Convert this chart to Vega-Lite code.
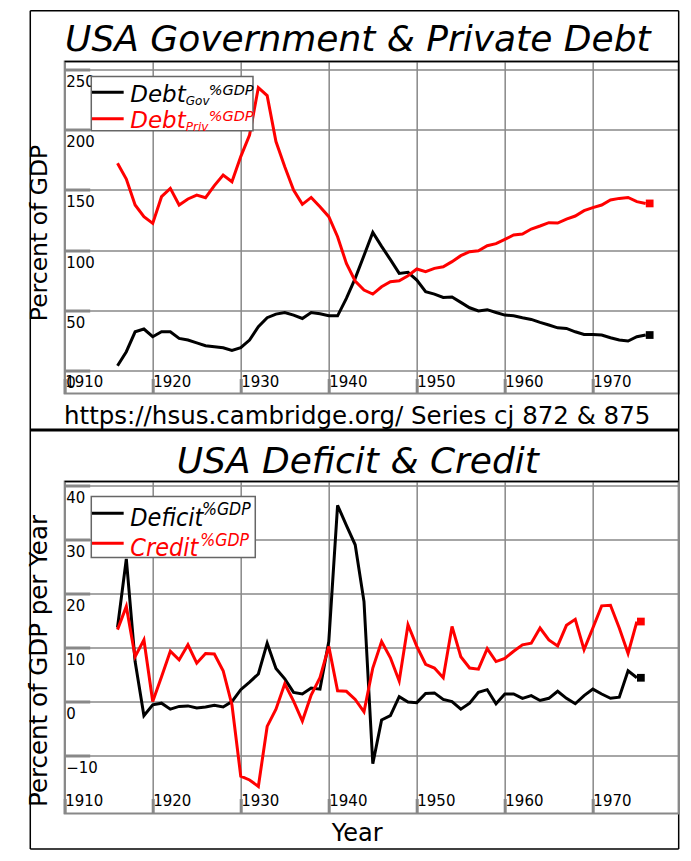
{
  "$schema": "https://vega.github.io/schema/vega-lite/v6.json",
  "background": "white",
  "padding": {"left": 25.7, "top": 8.5, "right": 14, "bottom": 10},
  "bounds": "flush",
  "spacing": 88,
  "config": {
    "font": "DejaVu Sans",
    "view": {"stroke": "#888888", "strokeWidth": 2},
    "axis": {
      "grid": true, "gridColor": "#888888", "gridWidth": 1.5, "gridOpacity": 1,
      "domain": false, "labelFontSize": 15, "labelColor": "black",
      "labelFlush": false, "labelOverlap": false, "labelBound": false,
      "ticks": true, "tickColor": "#888888", "tickWidth": 3,
      "titleFontWeight": "normal", "titleColor": "black"
    }
  },
  "vconcat": [
    {
      "width": 614, "height": 332,
      "data": {"values": [
        {"year":1916,"gov":3.6,"priv":172.2},{"year":1917,"gov":15.3,"priv":159.1},{"year":1918,"gov":31.9,"priv":137.5},
        {"year":1919,"gov":34.2,"priv":127.8},{"year":1920,"gov":27.8,"priv":122.2},{"year":1921,"gov":31.9,"priv":144.4},
        {"year":1922,"gov":31.9,"priv":151.3},{"year":1923,"gov":26.4,"priv":137.5},{"year":1924,"gov":25.0,"priv":142.5},
        {"year":1925,"gov":22.7,"priv":145.8},{"year":1926,"gov":20.3,"priv":143.6},{"year":1927,"gov":19.4,"priv":153.6},
        {"year":1928,"gov":18.6,"priv":162.5},{"year":1929,"gov":16.4,"priv":156.9},{"year":1930,"gov":18.6,"priv":177.8},
        {"year":1931,"gov":25.0,"priv":195.8},{"year":1932,"gov":36.1,"priv":235.3},{"year":1933,"gov":43.6,"priv":228.6},
        {"year":1934,"gov":46.6,"priv":190.3},{"year":1935,"gov":48.0,"priv":169.4},{"year":1936,"gov":45.8,"priv":150.0},
        {"year":1937,"gov":43.0,"priv":138.0},{"year":1938,"gov":48.0,"priv":143.8},{"year":1939,"gov":46.9,"priv":136.1},
        {"year":1940,"gov":45.2,"priv":127.8},{"year":1941,"gov":45.2,"priv":111.1},{"year":1942,"gov":59.7,"priv":88.8},
        {"year":1943,"gov":76.4,"priv":74.2},{"year":1944,"gov":95.5,"priv":66.7},{"year":1945,"gov":114.7,"priv":63.3},
        {"year":1946,"gov":103.0,"priv":69.4},{"year":1947,"gov":92.0,"priv":73.6},{"year":1948,"gov":80.5,"priv":74.4},
        {"year":1949,"gov":81.4,"priv":78.6},{"year":1950,"gov":75.0,"priv":84.2},{"year":1951,"gov":65.3,"priv":81.9},
        {"year":1952,"gov":63.3,"priv":84.7},{"year":1953,"gov":60.5,"priv":86.1},{"year":1954,"gov":60.8,"priv":90.3},
        {"year":1955,"gov":56.4,"priv":95.3},{"year":1956,"gov":51.9,"priv":98.6},{"year":1957,"gov":49.2,"priv":99.4},
        {"year":1958,"gov":50.3,"priv":103.6},{"year":1959,"gov":48.0,"priv":105.3},{"year":1960,"gov":45.8,"priv":108.8},
        {"year":1961,"gov":45.2,"priv":112.5},{"year":1962,"gov":43.6,"priv":113.3},{"year":1963,"gov":42.2,"priv":117.5},
        {"year":1964,"gov":39.7,"priv":120.0},{"year":1965,"gov":37.5,"priv":122.8},{"year":1966,"gov":35.2,"priv":122.5},
        {"year":1967,"gov":34.7,"priv":125.8},{"year":1968,"gov":31.9,"priv":128.3},{"year":1969,"gov":29.7,"priv":132.8},
        {"year":1970,"gov":29.7,"priv":135.3},{"year":1971,"gov":29.2,"priv":137.5},{"year":1972,"gov":26.9,"priv":141.7},
        {"year":1973,"gov":25.0,"priv":143.0},{"year":1974,"gov":24.2,"priv":143.8},{"year":1975,"gov":27.8,"priv":140.3},
        {"year":1976,"gov":29.2,"priv":138.8}
      ]},
      "layer": [
        {
          "transform": [{"fold": ["gov", "priv"], "as": ["series", "value"]}],
          "mark": {"type": "line", "strokeWidth": 3},
          "encoding": {
            "x": {"field": "year", "type": "quantitative",
              "scale": {"domain": [1910, 1979.75], "nice": false, "zero": false},
              "axis": {"values": [1910,1920,1930,1940,1950,1960,1970], "format": "d",
                "tickSize": -15, "labelAlign": "left", "labelBaseline": "alphabetic", "labelPadding": 7.5, "labelOffset": 0,
                "title": "https://hsus.cambridge.org/ Series cj 872 & 875", "titleFontSize": 24.5,
                "titleX": 292, "titleY": 30, "titleBaseline": "alphabetic", "titleAlign": "center"}},
            "y": {"field": "value", "type": "quantitative",
              "scale": {"domain": [-19.5, 257], "nice": false, "zero": false},
              "axis": {"values": [0,50,100,150,200,250], "tickSize": -25,
                "labelAlign": "left", "labelBaseline": "alphabetic", "labelPadding": 24, "labelOffset": 17,
                "title": "Percent of GDP", "titleFontSize": 23.5, "titleX": -18, "titleY": 171,
                "titleAngle": -90, "titleBaseline": "alphabetic", "titleAlign": "center"}},
            "color": {"field": "series", "type": "nominal", "scale": {"domain": ["gov", "priv"], "range": ["black", "red"]}, "legend": null}
          }
        },
        {
          "transform": [{"filter": {"field": "year", "equal": 1976}}, {"fold": ["gov", "priv"], "as": ["series", "value"]}],
          "mark": {"type": "square", "size": 60, "filled": true, "opacity": 1, "xOffset": 4},
          "encoding": {
            "x": {"field": "year", "type": "quantitative"},
            "y": {"field": "value", "type": "quantitative"},
            "color": {"field": "series", "type": "nominal", "scale": {"domain": ["gov", "priv"], "range": ["black", "red"]}, "legend": null}
          }
        },
        {
          "data": {"values": [{}]},
          "mark": {"type": "text", "text": "USA Government & Private Debt", "align": "center", "baseline": "alphabetic", "fontSize": 36, "fontStyle": "italic", "fill": "black"},
          "encoding": {"x": {"datum": 1943.3}, "y": {"datum": 265.34}}
        },
        {
          "data": {"values": [{}]},
          "mark": {"type": "rule", "color": "black", "strokeWidth": 1.5},
          "encoding": {"x": {"datum": 1906.09}, "y": {"datum": 299.26}, "y2": {"datum": -398.8}}
        },
        {
          "data": {"values": [{}]},
          "mark": {"type": "rule", "color": "black", "strokeWidth": 1.5},
          "encoding": {"x": {"datum": 1979.75}, "y": {"datum": 299.26}, "y2": {"datum": -398.8}}
        },
        {
          "data": {"values": [{}]},
          "mark": {"type": "rule", "color": "black", "strokeWidth": 1.5},
          "encoding": {"x": {"datum": 1906.09}, "x2": {"datum": 1979.75}, "y": {"datum": 299.26}}
        },
        {
          "data": {"values": [{}]},
          "mark": {"type": "rule", "color": "black", "strokeWidth": 3},
          "encoding": {"x": {"datum": 1906.09}, "x2": {"datum": 1979.75}, "y": {"datum": -50.0}}
        },
        {
          "data": {"values": [{}]},
          "mark": {"type": "rule", "color": "black", "strokeWidth": 1.5},
          "encoding": {"x": {"datum": 1906.09}, "x2": {"datum": 1979.75}, "y": {"datum": -398.8}}
        },
        {
          "data": {"values": [{}]},
          "mark": {"type": "rule", "color": "black", "strokeWidth": 1.5},
          "encoding": {"x": {"datum": 1910}, "x2": {"datum": 1979.75}, "y": {"datum": 257}}
        },
        {
          "data": {"values": [{}]},
          "mark": {"type": "rect", "fill": "white", "stroke": "#666666", "strokeWidth": 1.5},
          "encoding": {"x": {"datum": 1913.02}, "x2": {"datum": 1931.39}, "y": {"datum": 244.5}, "y2": {"datum": 199.23}}
        },
        {
          "data": {"values": [{}]},
          "mark": {"type": "rule", "color": "black", "strokeWidth": 3},
          "encoding": {"x": {"datum": 1913.1}, "x2": {"datum": 1916.7}, "y": {"datum": 231.41}}
        },
        {
          "data": {"values": [{}]},
          "mark": {"type": "rule", "color": "red", "strokeWidth": 3},
          "encoding": {"x": {"datum": 1913.1}, "x2": {"datum": 1916.7}, "y": {"datum": 209.23}}
        },
        {
          "data": {"values": [{}]},
          "mark": {"type": "text", "text": "Debt", "align": "left", "baseline": "alphabetic", "fontSize": 23, "fontStyle": "italic", "fill": "black"},
          "encoding": {"x": {"datum": 1917.45}, "y": {"datum": 223.07}}
        },
        {
          "data": {"values": [{}]},
          "mark": {"type": "text", "text": "Gov", "align": "left", "baseline": "alphabetic", "fontSize": 12, "fontStyle": "italic", "fill": "black", "dx": 55.5, "dy": 3},
          "encoding": {"x": {"datum": 1917.45}, "y": {"datum": 223.07}}
        },
        {
          "data": {"values": [{}]},
          "mark": {"type": "text", "text": "%GDP", "align": "left", "baseline": "alphabetic", "fontSize": 14.5, "fontStyle": "italic", "fill": "black", "dx": 78.4, "dy": -7.4},
          "encoding": {"x": {"datum": 1917.45}, "y": {"datum": 223.07}}
        },
        {
          "data": {"values": [{}]},
          "mark": {"type": "text", "text": "Debt", "align": "left", "baseline": "alphabetic", "fontSize": 23, "fontStyle": "italic", "fill": "red"},
          "encoding": {"x": {"datum": 1917.45}, "y": {"datum": 201.3}}
        },
        {
          "data": {"values": [{}]},
          "mark": {"type": "text", "text": "Priv", "align": "left", "baseline": "alphabetic", "fontSize": 12, "fontStyle": "italic", "fill": "red", "dx": 55.5, "dy": 2.5},
          "encoding": {"x": {"datum": 1917.45}, "y": {"datum": 201.3}}
        },
        {
          "data": {"values": [{}]},
          "mark": {"type": "text", "text": "%GDP", "align": "left", "baseline": "alphabetic", "fontSize": 14.5, "fontStyle": "italic", "fill": "red", "dx": 78.4, "dy": -7.4},
          "encoding": {"x": {"datum": 1917.45}, "y": {"datum": 201.3}}
        }
      ]
    },
    {
      "width": 614, "height": 332,
      "data": {"values": [
        {"year":1916,"deficit":13.7,"credit":13.3},{"year":1917,"deficit":26.4,"credit":17.6},{"year":1918,"deficit":7.4,"credit":8.3},
        {"year":1919,"deficit":-2.6,"credit":11.4},{"year":1920,"deficit":-0.6,"credit":0.0},{"year":1921,"deficit":-0.3,"credit":4.6},
        {"year":1922,"deficit":-1.4,"credit":9.3},{"year":1923,"deficit":-0.9,"credit":7.7},{"year":1924,"deficit":-0.8,"credit":10.5},
        {"year":1925,"deficit":-1.2,"credit":7.1},{"year":1926,"deficit":-1.0,"credit":8.9},{"year":1927,"deficit":-0.7,"credit":8.8},
        {"year":1928,"deficit":-1.0,"credit":5.7},{"year":1929,"deficit":0.0,"credit":-0.6},{"year":1930,"deficit":2.2,"credit":-13.8},
        {"year":1931,"deficit":3.6,"credit":-14.5},{"year":1932,"deficit":5.1,"credit":-15.7},{"year":1933,"deficit":10.8,"credit":-4.6},
        {"year":1934,"deficit":6.1,"credit":-1.4},{"year":1935,"deficit":4.2,"credit":3.3},{"year":1936,"deficit":1.7,"credit":0.1},
        {"year":1937,"deficit":1.4,"credit":-3.6},{"year":1938,"deficit":2.5,"credit":1.2},{"year":1939,"deficit":2.3,"credit":4.4},
        {"year":1940,"deficit":11.1,"credit":10.2},{"year":1941,"deficit":36.3,"credit":2.0},{"year":1942,"deficit":32.6,"credit":1.9},
        {"year":1943,"deficit":29.0,"credit":0.4},{"year":1944,"deficit":18.5,"credit":-1.9},{"year":1945,"deficit":-11.5,"credit":6.2},
        {"year":1946,"deficit":-3.4,"credit":11.1},{"year":1947,"deficit":-2.6,"credit":8.1},{"year":1948,"deficit":0.9,"credit":3.8},
        {"year":1949,"deficit":-0.1,"credit":14.2},{"year":1950,"deficit":-0.2,"credit":10.2},{"year":1951,"deficit":1.5,"credit":6.9},
        {"year":1952,"deficit":1.6,"credit":6.2},{"year":1953,"deficit":0.4,"credit":4.4},{"year":1954,"deficit":0.0,"credit":13.9},
        {"year":1955,"deficit":-1.4,"credit":8.3},{"year":1956,"deficit":-0.3,"credit":6.2},{"year":1957,"deficit":1.7,"credit":6.0},
        {"year":1958,"deficit":2.2,"credit":9.8},{"year":1959,"deficit":-0.4,"credit":7.4},{"year":1960,"deficit":1.4,"credit":8.0},
        {"year":1961,"deficit":1.4,"credit":9.3},{"year":1962,"deficit":0.6,"credit":10.5},{"year":1963,"deficit":1.1,"credit":10.8},
        {"year":1964,"deficit":0.2,"credit":13.6},{"year":1965,"deficit":0.6,"credit":11.4},{"year":1966,"deficit":1.9,"credit":10.3},
        {"year":1967,"deficit":0.6,"credit":14.1},{"year":1968,"deficit":-0.4,"credit":15.2},{"year":1969,"deficit":1.1,"credit":9.6},
        {"year":1970,"deficit":2.3,"credit":13.6},{"year":1971,"deficit":1.4,"credit":17.7},{"year":1972,"deficit":0.6,"credit":17.8},
        {"year":1973,"deficit":0.8,"credit":13.6},{"year":1974,"deficit":5.7,"credit":8.9},{"year":1975,"deficit":4.4,"credit":14.8}
      ]},
      "layer": [
        {
          "transform": [{"fold": ["deficit", "credit"], "as": ["series", "value"]}],
          "mark": {"type": "line", "strokeWidth": 3},
          "encoding": {
            "x": {"field": "year", "type": "quantitative",
              "scale": {"domain": [1910, 1979.75], "nice": false, "zero": false},
              "axis": {"values": [1910,1920,1930,1940,1950,1960,1970], "format": "d",
                "tickSize": -15, "labelAlign": "left", "labelBaseline": "alphabetic", "labelPadding": 7.5, "labelOffset": 0,
                "title": "Year", "titleFontSize": 24,
                "titleX": 292, "titleY": 27.5, "titleBaseline": "alphabetic", "titleAlign": "center"}},
            "y": {"field": "value", "type": "quantitative",
              "scale": {"domain": [-20.7, 40.7], "nice": false, "zero": false},
              "axis": {"values": [-10,0,10,20,30,40], "tickSize": -25,
                "labelAlign": "left", "labelBaseline": "alphabetic", "labelPadding": 24, "labelOffset": 17,
                "title": "Percent of GDP per Year", "titleFontSize": 24.5, "titleX": -18, "titleY": 179,
                "titleAngle": -90, "titleBaseline": "alphabetic", "titleAlign": "center"}},
            "color": {"field": "series", "type": "nominal", "scale": {"domain": ["deficit", "credit"], "range": ["black", "red"]}, "legend": null}
          }
        },
        {
          "transform": [{"filter": {"field": "year", "equal": 1975}}, {"fold": ["deficit", "credit"], "as": ["series", "value"]}],
          "mark": {"type": "square", "size": 60, "filled": true, "opacity": 1, "xOffset": 4},
          "encoding": {
            "x": {"field": "year", "type": "quantitative"},
            "y": {"field": "value", "type": "quantitative"},
            "color": {"field": "series", "type": "nominal", "scale": {"domain": ["deficit", "credit"], "range": ["black", "red"]}, "legend": null}
          }
        },
        {
          "data": {"values": [{}]},
          "mark": {"type": "text", "text": "USA Deficit & Credit", "align": "center", "baseline": "alphabetic", "fontSize": 36, "fontStyle": "italic", "fill": "black"},
          "encoding": {"x": {"datum": 1943.3}, "y": {"datum": 42.18}}
        },
        {
          "data": {"values": [{}]},
          "mark": {"type": "rule", "color": "black", "strokeWidth": 1.5},
          "encoding": {"x": {"datum": 1910}, "x2": {"datum": 1979.75}, "y": {"datum": 40.7}}
        },
        {
          "data": {"values": [{}]},
          "mark": {"type": "rect", "fill": "white", "stroke": "#666666", "strokeWidth": 1.5},
          "encoding": {"x": {"datum": 1913.02}, "x2": {"datum": 1931.65}, "y": {"datum": 37.93}, "y2": {"datum": 26.64}}
        },
        {
          "data": {"values": [{}]},
          "mark": {"type": "rule", "color": "black", "strokeWidth": 3},
          "encoding": {"x": {"datum": 1913.1}, "x2": {"datum": 1916.7}, "y": {"datum": 34.84}}
        },
        {
          "data": {"values": [{}]},
          "mark": {"type": "rule", "color": "red", "strokeWidth": 3},
          "encoding": {"x": {"datum": 1913.1}, "x2": {"datum": 1916.7}, "y": {"datum": 29.29}}
        },
        {
          "data": {"values": [{}]},
          "mark": {"type": "text", "text": "Deficit", "align": "left", "baseline": "alphabetic", "font": "DejaVu Sans Condensed", "fontSize": 25, "fontStyle": "italic", "fill": "black"},
          "encoding": {"x": {"datum": 1917.45}, "y": {"datum": 32.38}}
        },
        {
          "data": {"values": [{}]},
          "mark": {"type": "text", "text": "%GDP", "align": "left", "baseline": "alphabetic", "font": "DejaVu Sans Condensed", "fontSize": 17.5, "fontStyle": "italic", "fill": "black", "dx": 71.7, "dy": -11.7},
          "encoding": {"x": {"datum": 1917.45}, "y": {"datum": 32.38}}
        },
        {
          "data": {"values": [{}]},
          "mark": {"type": "text", "text": "Credit", "align": "left", "baseline": "alphabetic", "font": "DejaVu Sans Condensed", "fontSize": 25, "fontStyle": "italic", "fill": "red"},
          "encoding": {"x": {"datum": 1917.45}, "y": {"datum": 27.01}}
        },
        {
          "data": {"values": [{}]},
          "mark": {"type": "text", "text": "%GDP", "align": "left", "baseline": "alphabetic", "font": "DejaVu Sans Condensed", "fontSize": 17.5, "fontStyle": "italic", "fill": "red", "dx": 70, "dy": -10},
          "encoding": {"x": {"datum": 1917.45}, "y": {"datum": 27.01}}
        }
      ]
    }
  ]
}
